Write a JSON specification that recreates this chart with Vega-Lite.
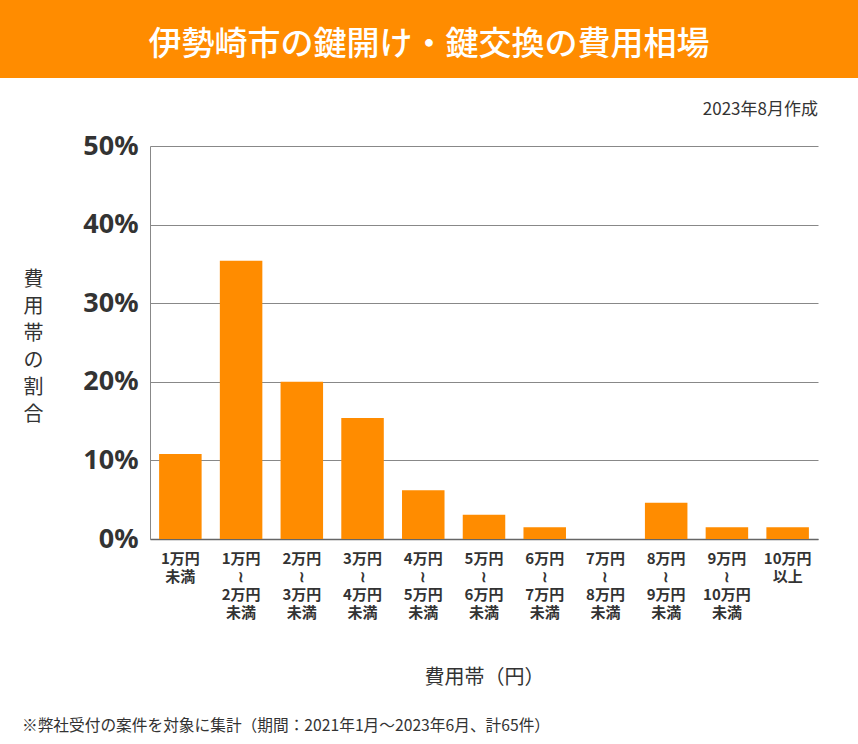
{
  "$schema": "https://vega.github.io/schema/vega-lite/v6.json",
  "padding": {"left": 0, "top": 0, "right": 0, "bottom": 8},
  "background": "white",
  "spacing": 23,
  "title": {
    "text": "※弊社受付の案件を対象に集計（期間：2021年1月～2023年6月、計65件）",
    "orient": "bottom",
    "anchor": "start",
    "dx": 22,
    "offset": 32,
    "font": "Noto Sans CJK JP",
    "fontSize": 15.7,
    "fontWeight": "normal",
    "color": "#333333"
  },
  "config": {
    "view": {"stroke": null},
    "font": "Noto Sans CJK JP"
  },
  "vconcat": [
    {
      "width": 858,
      "height": 78,
      "view": {"fill": "#FF8C00", "stroke": null},
      "data": {"values": [{"t": "伊勢崎市の鍵開け・鍵交換の費用相場"}]},
      "mark": {
        "type": "text",
        "color": "white",
        "font": "Noto Sans CJK JP",
        "fontSize": 33,
        "fontWeight": 500,
        "align": "center",
        "baseline": "middle",
        "dy": 6
      },
      "encoding": {"text": {"field": "t"}}
    },
    {
      "spacing": 0,
      "hconcat": [
        {
          "width": 23,
          "height": 10,
          "data": {"values": []},
          "mark": "point",
          "view": {"stroke": null}
        },
        {
          "width": 668,
          "height": 393,
          "title": {
            "text": "2023年8月作成",
            "anchor": "end",
            "fontSize": 17,
            "fontWeight": "normal",
            "color": "#333333",
            "offset": 13
          },
          "data": {
            "values": [
              {"range": "1万円|未満", "pct": 0.108},
              {"range": "1万円|≀|2万円|未満", "pct": 0.354},
              {"range": "2万円|≀|3万円|未満", "pct": 0.2},
              {"range": "3万円|≀|4万円|未満", "pct": 0.154},
              {"range": "4万円|≀|5万円|未満", "pct": 0.062},
              {"range": "5万円|≀|6万円|未満", "pct": 0.031},
              {"range": "6万円|≀|7万円|未満", "pct": 0.015},
              {"range": "7万円|≀|8万円|未満", "pct": 0},
              {"range": "8万円|≀|9万円|未満", "pct": 0.046},
              {"range": "9万円|≀|10万円|未満", "pct": 0.015},
              {"range": "10万円|以上", "pct": 0.015}
            ]
          },
          "mark": {"type": "bar", "color": "#FF8C00"},
          "encoding": {
            "x": {
              "field": "range",
              "type": "nominal",
              "sort": null,
              "scale": {"paddingInner": 0.3, "paddingOuter": 0.15},
              "axis": {
                "title": "費用帯（円）",
                "titleFontSize": 20,
                "titleFontWeight": "normal",
                "titleColor": "#333333",
                "titlePadding": 47,
                "labelExpr": "split(datum.value, '|')",
                "labelAngle": 0,
                "labelFontSize": 15,
                "labelFontWeight": "bold",
                "labelColor": "#333333",
                "labelLineHeight": 18,
                "labelPadding": 12,
                "ticks": false,
                "domainColor": "#666666",
                "domainWidth": 1.5
              }
            },
            "y": {
              "field": "pct",
              "type": "quantitative",
              "scale": {"domain": [0, 0.5]},
              "axis": {
                "values": [0, 0.1, 0.2, 0.3, 0.4, 0.5],
                "format": ".0%",
                "labelFont": "Noto Sans",
                "labelFontSize": 27,
                "labelFontWeight": "bold",
                "labelColor": "#333333",
                "labelPadding": 12,
                "ticks": false,
                "domainColor": "#888888",
                "gridColor": "#888888",
                "title": ["費", "用", "帯", "の", "割", "合"],
                "titleAngle": 0,
                "titleAlign": "center",
                "titleBaseline": "middle",
                "titleFontSize": 20,
                "titleFontWeight": "normal",
                "titleColor": "#333333",
                "titleLineHeight": 27,
                "titleX": -117,
                "titleY": 133
              }
            }
          }
        }
      ]
    }
  ]
}
